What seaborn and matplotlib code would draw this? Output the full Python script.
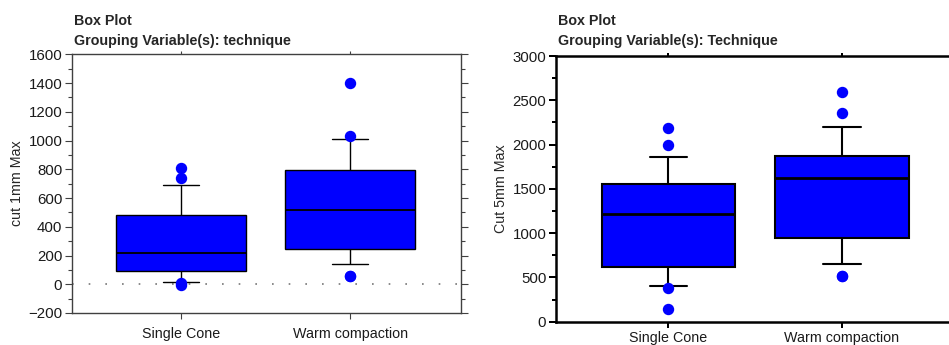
import numpy as np
import pandas as pd
import matplotlib
matplotlib.use("Agg")
import matplotlib.pyplot as plt
from matplotlib.ticker import MultipleLocator
import seaborn as sns

# Observations per technique (21 teeth each)
techniques = ["Single Cone", "Warm compaction"]

cut1_single = [-2, 8, 18, 45, 70, 90, 120, 150, 175, 200, 220,
               260, 300, 350, 420, 480, 560, 630, 690, 740, 810]
cut1_warm = [60, 60, 140, 170, 210, 245, 290, 340, 390, 450, 515,
             560, 610, 660, 730, 795, 860, 930, 1010, 1035, 1400]

cut5_single = [140, 375, 405, 470, 550, 620, 720, 820, 930, 1080, 1215,
               1280, 1350, 1420, 1490, 1550, 1650, 1760, 1860, 2000, 2190]
cut5_warm = [515, 515, 655, 760, 860, 950, 1080, 1200, 1340, 1480, 1620,
             1680, 1730, 1790, 1830, 1875, 1960, 2080, 2200, 2355, 2595]

left_titles = ["Box Plot", "Grouping Variable(s): technique"]
right_titles = ["Box Plot", "Grouping Variable(s): Technique"]

df1 = pd.DataFrame({
    "technique": [techniques[0]] * len(cut1_single) + [techniques[1]] * len(cut1_warm),
    "cut 1mm Max": cut1_single + cut1_warm,
})
df5 = pd.DataFrame({
    "technique": [techniques[0]] * len(cut5_single) + [techniques[1]] * len(cut5_warm),
    "Cut 5mm Max": cut5_single + cut5_warm,
})

sns.set_style("white")
plt.rcParams["font.family"] = ["Liberation Sans", "DejaVu Sans"]
FS = 10.3
TFS = 10.8

fig = plt.figure(figsize=(9.49, 3.45), dpi=100)
ax1 = fig.add_axes([72 / 949, 32 / 345, 389 / 949, 258.7 / 345])
ax2 = fig.add_axes([556 / 949, 23.3 / 345, 400 / 949, 265.7 / 345])


def draw(ax, df, col, lw, mlw, slw, scol):
    sns.boxplot(
        data=df, x="technique", y=col, ax=ax, order=techniques,
        whis=(10, 90), width=0.767, color="#0000ff", saturation=1,
        linecolor="black", linewidth=lw,
        medianprops=dict(color="black", linewidth=mlw),
        flierprops=dict(marker="o", markerfacecolor="#0000ff",
                        markeredgecolor="#0000ff", markersize=7.2),
        capwidths=0.215,
    )
    ax.set_xlim(-0.647, 1.657)
    ax.set_xlabel("")
    ax.set_ylabel(col, fontsize=FS, labelpad=3)
    for s in ax.spines.values():
        s.set_visible(True)
        s.set_linewidth(slw)
        s.set_color(scol)
    ax.tick_params(axis="y", which="both", left=True, right=True,
                   direction="out", color=scol, width=slw * 0.8,
                   labelsize=TFS, labelcolor="#1a1a1a", pad=2)
    ax.tick_params(axis="y", which="major", length=5)
    ax.tick_params(axis="y", which="minor", length=3)
    ax.tick_params(axis="x", which="major", bottom=True, top=True,
                   direction="out", length=4, color=scol, width=slw * 0.8,
                   labelsize=FS, labelcolor="#1a1a1a", pad=6)
    ax.xaxis.set_tick_params(which="major", top=True)
    for t in ax.xaxis.get_major_ticks():
        t.tick2line.set_markersize(2.5)


draw(ax1, df1, "cut 1mm Max", 1.0, 1.3, 1.0, "#404040")
ax1.set_ylim(-200, 1600)
ax1.yaxis.set_major_locator(MultipleLocator(200))
ax1.yaxis.set_minor_locator(MultipleLocator(100))
ax1.axhline(0, color="#777777", linestyle=(0, (1, 9)), linewidth=1.2, zorder=0)

draw(ax2, df5, "Cut 5mm Max", 1.5, 2.0, 1.8, "black")
ax2.set_ylim(0, 3000)
ax2.yaxis.set_major_locator(MultipleLocator(500))
ax2.yaxis.set_minor_locator(MultipleLocator(250))
ax2.tick_params(axis="x", pad=3)
for t in ax2.xaxis.get_major_ticks():
    t.tick2line.set_markersize(2.5)
for t in ax1.xaxis.get_major_ticks():
    t.tick2line.set_markersize(2.5)

for x0, lines in [(74, left_titles), (557.7, right_titles)]:
    fig.text(x0 / 949, 1 - 20.7 / 345, lines[0], fontsize=FS, fontweight="bold", va="center")
    fig.text(x0 / 949, 1 - 40.5 / 345, lines[1], fontsize=FS, fontweight="bold", va="center")

fig.savefig("out.png", dpi=100)
